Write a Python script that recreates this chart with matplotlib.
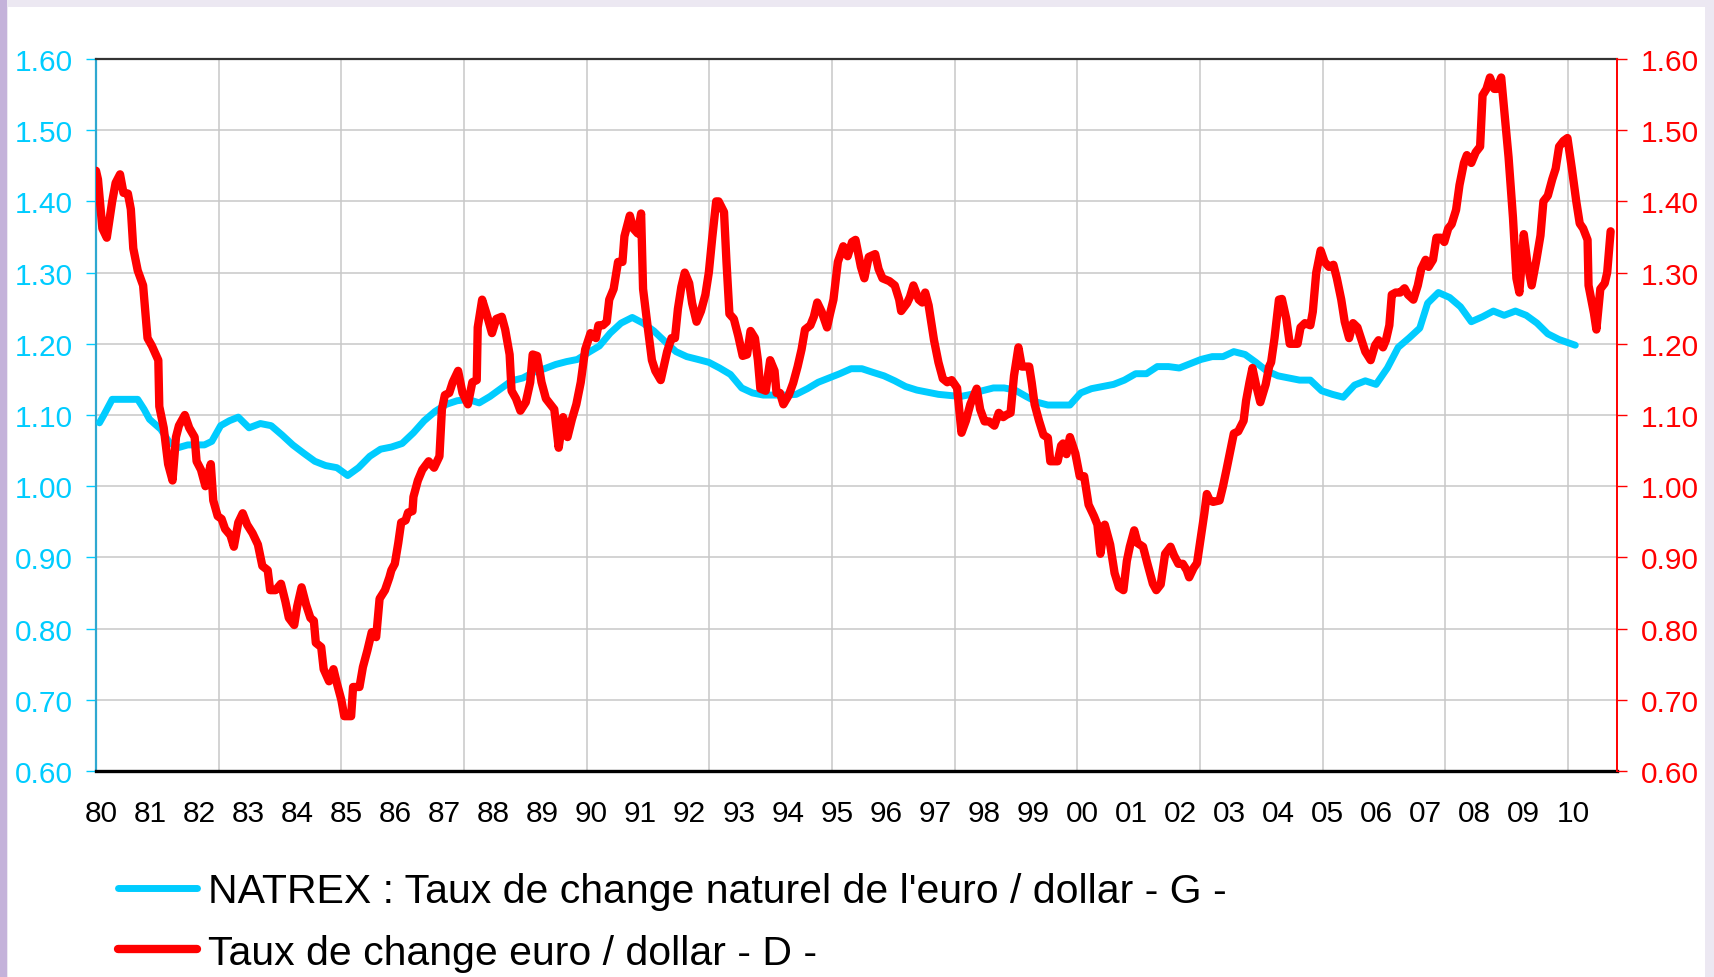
import matplotlib.pyplot as plt
from matplotlib.patches import Rectangle
import numpy as np

plt.rcParams['font.family'] = ['Liberation Sans', 'DejaVu Sans']

# Taux de change euro / dollar (échelle de droite)
taux_annees = [
    1980.00, 1980.04, 1980.13, 1980.22, 1980.33, 1980.40, 1980.49, 1980.56, 1980.65, 1980.71,
    1980.76, 1980.85, 1980.96, 1981.05, 1981.14, 1981.27, 1981.29, 1981.38, 1981.47, 1981.56,
    1981.63, 1981.69, 1981.81, 1981.90, 1982.01, 1982.05, 1982.14, 1982.23, 1982.34, 1982.39,
    1982.48, 1982.56, 1982.63, 1982.74, 1982.81, 1982.90, 1982.99, 1983.08, 1983.19, 1983.30,
    1983.39, 1983.50, 1983.55, 1983.66, 1983.77, 1983.86, 1983.93, 1984.04, 1984.10, 1984.19,
    1984.28, 1984.37, 1984.44, 1984.48, 1984.59, 1984.64, 1984.75, 1984.84, 1984.91, 1985.00,
    1985.06, 1985.20, 1985.24, 1985.37, 1985.44, 1985.53, 1985.62, 1985.71, 1985.78, 1985.89,
    1985.98, 1986.02, 1986.09, 1986.16, 1986.22, 1986.31, 1986.36, 1986.45, 1986.47, 1986.56,
    1986.65, 1986.78, 1986.89, 1987.00, 1987.05, 1987.11, 1987.20, 1987.27, 1987.38, 1987.47,
    1987.58, 1987.67, 1987.76, 1987.78, 1987.87, 1987.96, 1988.07, 1988.16, 1988.27, 1988.34,
    1988.43, 1988.47, 1988.56, 1988.65, 1988.76, 1988.85, 1988.90, 1988.99, 1989.08, 1989.17,
    1989.26, 1989.34, 1989.43, 1989.52, 1989.61, 1989.70, 1989.79, 1989.88, 1989.97, 1990.08,
    1990.19, 1990.24, 1990.33, 1990.41, 1990.46, 1990.55, 1990.64, 1990.73, 1990.77, 1990.88,
    1990.95, 1991.04, 1991.11, 1991.15, 1991.24, 1991.33, 1991.40, 1991.51, 1991.64, 1991.73,
    1991.80, 1991.86, 1991.93, 1992.00, 1992.09, 1992.15, 1992.24, 1992.33, 1992.42, 1992.49,
    1992.56, 1992.64, 1992.69, 1992.80, 1992.85, 1992.91, 1993.00, 1993.09, 1993.18, 1993.27,
    1993.34, 1993.43, 1993.49, 1993.54, 1993.65, 1993.74, 1993.83, 1993.87, 1993.94, 1994.01,
    1994.12, 1994.21, 1994.30, 1994.38, 1994.45, 1994.56, 1994.63, 1994.70, 1994.79, 1994.90,
    1994.96, 1995.03, 1995.12, 1995.23, 1995.32, 1995.41, 1995.48, 1995.59, 1995.66, 1995.75,
    1995.88, 1995.95, 1996.03, 1996.17, 1996.28, 1996.37, 1996.41, 1996.53, 1996.59, 1996.66,
    1996.77, 1996.84, 1996.90, 1996.97, 1997.08, 1997.17, 1997.26, 1997.35, 1997.44, 1997.55,
    1997.64, 1997.73, 1997.82, 1997.95, 1998.02, 1998.11, 1998.20, 1998.31, 1998.40, 1998.49,
    1998.55, 1998.64, 1998.71, 1998.80, 1998.87, 1998.96, 1999.02, 1999.07, 1999.13, 1999.22,
    1999.31, 1999.40, 1999.45, 1999.54, 1999.60, 1999.67, 1999.71, 1999.78, 1999.85, 1999.96,
    2000.05, 2000.14, 2000.23, 2000.34, 2000.41, 2000.47, 2000.56, 2000.67, 2000.76, 2000.85,
    2000.94, 2001.01, 2001.07, 2001.16, 2001.23, 2001.34, 2001.43, 2001.54, 2001.61, 2001.70,
    2001.79, 2001.90, 2001.97, 2002.06, 2002.15, 2002.23, 2002.28, 2002.37, 2002.44, 2002.50,
    2002.59, 2002.64, 2002.70, 2002.77, 2002.90, 2002.97, 2003.04, 2003.13, 2003.19, 2003.28,
    2003.39, 2003.44, 2003.51, 2003.57, 2003.64, 2003.73, 2003.84, 2003.91, 2003.95, 2004.02,
    2004.11, 2004.17, 2004.26, 2004.33, 2004.49, 2004.55, 2004.64, 2004.75, 2004.80, 2004.87,
    2004.96, 2005.04, 2005.13, 2005.22, 2005.29, 2005.38, 2005.45, 2005.54, 2005.62, 2005.71,
    2005.78, 2005.87, 2005.98, 2006.07, 2006.14, 2006.23, 2006.29, 2006.36, 2006.41, 2006.49,
    2006.58, 2006.67, 2006.74, 2006.85, 2006.94, 2007.01, 2007.10, 2007.16, 2007.25, 2007.32,
    2007.41, 2007.48, 2007.56, 2007.63, 2007.72, 2007.79, 2007.88, 2007.94, 2008.03, 2008.12,
    2008.21, 2008.26, 2008.34, 2008.41, 2008.50, 2008.55, 2008.64, 2008.72, 2008.79, 2008.88,
    2008.95, 2009.01, 2009.10, 2009.17, 2009.26, 2009.35, 2009.44, 2009.50, 2009.59, 2009.68,
    2009.75, 2009.82, 2009.91, 2009.99, 2010.08, 2010.17, 2010.24, 2010.31, 2010.40, 2010.42,
    2010.53, 2010.58, 2010.66, 2010.75, 2010.80, 2010.87,
]
taux_valeurs = [
    1.443, 1.431, 1.362, 1.349, 1.400, 1.426, 1.438, 1.412, 1.411, 1.389,
    1.334, 1.303, 1.282, 1.208, 1.197, 1.177, 1.112, 1.082, 1.031, 1.008,
    1.069, 1.085, 1.100, 1.082, 1.069, 1.035, 1.023, 1.000, 1.031, 0.980,
    0.958, 0.954, 0.940, 0.931, 0.915, 0.949, 0.962, 0.946, 0.934, 0.918,
    0.888, 0.882, 0.854, 0.854, 0.863, 0.838, 0.815, 0.805, 0.831, 0.858,
    0.834, 0.815, 0.811, 0.780, 0.774, 0.743, 0.726, 0.743, 0.723, 0.700,
    0.677, 0.677, 0.718, 0.718, 0.746, 0.769, 0.795, 0.788, 0.842, 0.854,
    0.872, 0.882, 0.891, 0.920, 0.949, 0.952, 0.963, 0.965, 0.985, 1.008,
    1.023, 1.035, 1.026, 1.042, 1.108, 1.128, 1.131, 1.146, 1.162, 1.131,
    1.115, 1.146, 1.149, 1.223, 1.262, 1.242, 1.215, 1.235, 1.238, 1.220,
    1.185, 1.134, 1.123, 1.106, 1.118, 1.146, 1.185, 1.183, 1.146, 1.123,
    1.115, 1.108, 1.054, 1.097, 1.069, 1.094, 1.115, 1.146, 1.192, 1.215,
    1.208, 1.226, 1.226, 1.231, 1.262, 1.277, 1.315, 1.315, 1.351, 1.380,
    1.362, 1.355, 1.383, 1.277, 1.226, 1.177, 1.162, 1.149, 1.189, 1.208,
    1.208, 1.249, 1.280, 1.300, 1.285, 1.257, 1.231, 1.246, 1.269, 1.300,
    1.349, 1.400, 1.400, 1.385, 1.315, 1.242, 1.235, 1.211, 1.183, 1.185,
    1.218, 1.208, 1.177, 1.137, 1.134, 1.177, 1.162, 1.131, 1.131, 1.115,
    1.128, 1.145, 1.168, 1.192, 1.220, 1.226, 1.238, 1.258, 1.245, 1.223,
    1.242, 1.262, 1.315, 1.337, 1.323, 1.343, 1.346, 1.308, 1.292, 1.322,
    1.326, 1.305, 1.292, 1.288, 1.282, 1.262, 1.246, 1.257, 1.266, 1.282,
    1.262, 1.258, 1.272, 1.254, 1.205, 1.174, 1.151, 1.146, 1.149, 1.138,
    1.075, 1.092, 1.115, 1.137, 1.108, 1.091, 1.091, 1.085, 1.103, 1.097,
    1.100, 1.103, 1.155, 1.195, 1.168, 1.168, 1.168, 1.146, 1.115, 1.092,
    1.072, 1.068, 1.035, 1.035, 1.035, 1.057, 1.060, 1.045, 1.069, 1.046,
    1.014, 1.014, 0.974, 0.958, 0.946, 0.905, 0.946, 0.918, 0.878, 0.858,
    0.854, 0.895, 0.915, 0.938, 0.920, 0.915, 0.891, 0.863, 0.854, 0.862,
    0.905, 0.915, 0.903, 0.891, 0.891, 0.882, 0.872, 0.885, 0.892, 0.920,
    0.962, 0.989, 0.980, 0.978, 0.980, 1.000, 1.023, 1.054, 1.074, 1.077,
    1.092, 1.120, 1.146, 1.166, 1.143, 1.118, 1.143, 1.168, 1.174, 1.208,
    1.262, 1.263, 1.235, 1.200, 1.200, 1.223, 1.229, 1.226, 1.245, 1.300,
    1.331, 1.315, 1.308, 1.311, 1.292, 1.262, 1.231, 1.208, 1.229, 1.223,
    1.208, 1.189, 1.177, 1.198, 1.205, 1.195, 1.205, 1.226, 1.269, 1.272,
    1.272, 1.278, 1.269, 1.262, 1.282, 1.305, 1.318, 1.308, 1.318, 1.349,
    1.349, 1.343, 1.362, 1.368, 1.388, 1.423, 1.454, 1.465, 1.454, 1.469,
    1.477, 1.549, 1.558, 1.574, 1.558, 1.558, 1.574, 1.515, 1.462, 1.377,
    1.292, 1.272, 1.354, 1.315, 1.282, 1.315, 1.352, 1.400, 1.408, 1.431,
    1.446, 1.477, 1.485, 1.489, 1.446, 1.400, 1.369, 1.362, 1.346, 1.282,
    1.243, 1.220, 1.277, 1.285, 1.300, 1.358,
]

# NATREX : taux de change naturel (échelle de gauche)
natrex_annees = [
    1980.07, 1980.16, 1980.33, 1980.85, 1980.98, 1981.09, 1981.32, 1981.49, 1981.67, 1981.87,
    1982.21, 1982.36, 1982.54, 1982.72, 1982.90, 1983.12, 1983.35, 1983.57, 1983.79, 1984.01,
    1984.24, 1984.46, 1984.68, 1984.91, 1985.13, 1985.35, 1985.58, 1985.80, 1986.02, 1986.24,
    1986.47, 1986.69, 1986.91, 1987.14, 1987.36, 1987.58, 1987.81, 1988.03, 1988.25, 1988.47,
    1988.70, 1988.92, 1989.14, 1989.37, 1989.59, 1989.81, 1990.04, 1990.26, 1990.48, 1990.70,
    1990.93, 1991.15, 1991.37, 1991.60, 1991.82, 1992.04, 1992.27, 1992.49, 1992.71, 1992.93,
    1993.16, 1993.38, 1993.60, 1994.05, 1994.27, 1994.50, 1994.72, 1994.94, 1995.16, 1995.39,
    1995.61, 1995.83, 1996.06, 1996.28, 1996.50, 1996.73, 1996.95, 1997.17, 1997.62, 1997.84,
    1998.06, 1998.29, 1998.51, 1998.73, 1998.96, 1999.18, 1999.40, 1999.85, 2000.07, 2000.29,
    2000.52, 2000.74, 2000.96, 2001.19, 2001.41, 2001.63, 2001.86, 2002.08, 2002.30, 2002.52,
    2002.75, 2002.97, 2003.19, 2003.42, 2003.64, 2003.86, 2004.09, 2004.31, 2004.53, 2004.75,
    2004.98, 2005.20, 2005.42, 2005.65, 2005.87, 2006.09, 2006.32, 2006.54, 2006.76, 2006.98,
    2007.14, 2007.36, 2007.59, 2007.81, 2008.03, 2008.26, 2008.48, 2008.70, 2008.93, 2009.15,
    2009.37, 2009.59, 2009.82, 2010.15,
]
natrex_valeurs = [
    1.089, 1.100, 1.122, 1.122, 1.108, 1.094, 1.080, 1.062, 1.054, 1.058,
    1.058, 1.063, 1.085, 1.092, 1.097, 1.082, 1.088, 1.085, 1.072, 1.058,
    1.046, 1.035, 1.029, 1.026, 1.015, 1.026, 1.042, 1.052, 1.055, 1.060,
    1.075, 1.092, 1.105, 1.115, 1.120, 1.122, 1.117, 1.126, 1.137, 1.148,
    1.152, 1.160, 1.165, 1.171, 1.175, 1.178, 1.188, 1.197, 1.215, 1.229,
    1.237, 1.229, 1.218, 1.203, 1.189, 1.182, 1.178, 1.174, 1.166, 1.157,
    1.138, 1.131, 1.128, 1.128, 1.129, 1.137, 1.146, 1.152, 1.158, 1.165,
    1.165, 1.160, 1.155, 1.148, 1.140, 1.135, 1.132, 1.129, 1.126, 1.129,
    1.134, 1.138, 1.138, 1.135, 1.126, 1.118, 1.114, 1.114, 1.131, 1.137,
    1.140, 1.143, 1.149, 1.158, 1.158, 1.168, 1.168, 1.166, 1.172, 1.178,
    1.182, 1.182, 1.189, 1.185, 1.174, 1.162, 1.155, 1.152, 1.149, 1.149,
    1.134, 1.129, 1.125, 1.142, 1.148, 1.143, 1.166, 1.195, 1.208, 1.222,
    1.257, 1.272, 1.265, 1.252, 1.231, 1.238, 1.246, 1.240, 1.246, 1.240,
    1.229, 1.214, 1.206, 1.198,
]

annees_labels = ["%02d" % (a % 100) for a in range(1980, 2011)]

cyan = '#00CCFF'
rouge = '#FF0000'
lw_cyan = 5.0
lw_rouge = 6.0

fig = plt.figure(figsize=(17.15, 9.78), dpi=100, facecolor='#ECE8F2')
# fond blanc du graphique, bande violette à gauche
fig.patches.append(Rectangle((8 / 1715, 0), 1697 / 1715, 970 / 978,
                             transform=fig.transFigure, facecolor='white', zorder=-10))
fig.patches.append(Rectangle((0, 0), 7 / 1715, 1,
                             transform=fig.transFigure, facecolor='#C4B2DA', zorder=-10))

ax = fig.add_axes([96 / 1715, 1 - 772 / 978, 1521 / 1715, 712 / 978])
ax.patch.set_alpha(0)
ax2 = ax.twinx()

ax.plot(natrex_annees, natrex_valeurs, color=cyan, lw=lw_cyan,
        solid_joinstyle='round', solid_capstyle='round', zorder=3)
ax2.plot(taux_annees, taux_valeurs, color=rouge, lw=lw_rouge,
         solid_joinstyle='round', solid_capstyle='round', zorder=3)

for a in (ax, ax2):
    a.set_ylim(0.6, 1.6)
    a.set_yticks(np.arange(0.6, 1.61, 0.1))
    a.yaxis.set_major_formatter(plt.FormatStrFormatter('%.2f'))
ax.set_xlim(1980, 2011)

ax.set_xticks(np.arange(1980, 2011) + 0.1)
ax.set_xticklabels(annees_labels)
ax.set_xticks(np.arange(1982.5, 2010.1, 2.5), minor=True)
ax.tick_params(axis='x', which='both', length=0, labelsize=21.5, pad=20, colors='black')
ax.grid(True, axis='x', which='minor', color='#C8C8C8', lw=1.1)
ax.grid(True, axis='y', which='major', color='#C8C8C8', lw=1.1)
ax.set_axisbelow(True)

ax.tick_params(axis='y', length=7, width=1, colors=cyan, labelsize=21.5, pad=10)
ax2.tick_params(axis='y', length=7, width=1, colors=rouge, labelsize=21.5, pad=10)

ax.spines['top'].set_color('#333333')
ax.spines['top'].set_linewidth(1.6)
ax.spines['bottom'].set_color('black')
ax.spines['bottom'].set_linewidth(2.4)
ax.spines['left'].set_color('#2FA8D0')
ax.spines['left'].set_linewidth(1.6)
ax.spines['right'].set_visible(False)
for s in ('top', 'bottom', 'left'):
    ax2.spines[s].set_visible(False)
ax2.spines['right'].set_color(rouge)
ax2.spines['right'].set_linewidth(1.4)

h1 = plt.Line2D([], [], color=cyan, lw=lw_cyan, solid_capstyle='round')
h2 = plt.Line2D([], [], color=rouge, lw=lw_rouge, solid_capstyle='round')
fig.legend([h1, h2],
           ["NATREX : Taux de change naturel de l'euro / dollar - G -",
            "Taux de change euro / dollar - D -"],
           loc='upper left', bbox_to_anchor=(118 / 1715, 1 - 873 / 978),
           frameon=False, fontsize=29.5, handlelength=1.93, handletextpad=0.27,
           labelspacing=0.58, borderpad=0, borderaxespad=0)

fig.savefig('out.png', dpi=100, facecolor=fig.get_facecolor())
